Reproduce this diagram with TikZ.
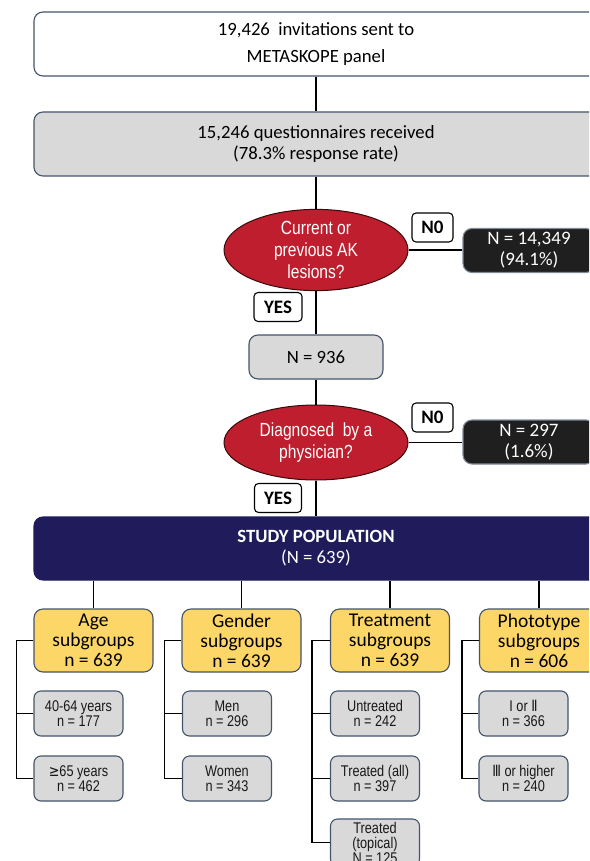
\documentclass[tikz,border=0pt]{standalone}
\usepackage{fontspec}
\setmainfont{Carlito}
\newfontfamily\narrowf[FakeStretch=0.82]{Liberation Sans}
\newfontfamily\symf[FakeStretch=0.82]{DejaVu Sans}
\usetikzlibrary{shapes.geometric}
\definecolor{bord}{HTML}{44546A}
\definecolor{grayfill}{HTML}{D9D9D9}
\definecolor{yel}{HTML}{FCD666}
\definecolor{redfill}{HTML}{BE1E2D}
\definecolor{redbord}{HTML}{3A0A0A}
\definecolor{navy}{HTML}{201C5C}
\definecolor{blk}{HTML}{1F1F1F}
\definecolor{blkbord}{HTML}{7F8A99}
\tikzset{
  base/.style={rounded corners=9pt, draw=bord, line width=1.1pt, align=center, inner sep=0pt,
    font=\fontsize{18.7}{21}\selectfont},
  bigbox/.style={base, minimum width=564pt, minimum height=64pt},
  graybox/.style={base, fill=grayfill},
  decision/.style={ellipse, draw=redbord, line width=1pt, fill=redfill, text=white, align=center,
    inner sep=0pt, minimum width=184pt, minimum height=75pt,
    font=\narrowf\fontsize{19}{22}\selectfont},
  tagbox/.style={rounded corners=4pt, draw=black, line width=1.1pt, fill=white, inner sep=0pt,
    minimum height=29pt, font=\bfseries\fontsize{19}{20}\selectfont},
  blackbox/.style={base, draw=blkbord, fill=blk, text=white, minimum width=132pt, minimum height=44pt,
    font=\fontsize{19}{21}\selectfont},
  subgroup/.style={base, fill=yel, minimum width=119pt, minimum height=63pt,
    font=\fontsize{19.5}{20}\selectfont},
  kid/.style={rounded corners=7pt, draw=bord, line width=1.1pt, fill=grayfill, align=center, inner sep=0pt,
    minimum width=89pt, minimum height=45pt, text=black!90,
    font=\narrowf\fontsize{15.5}{15}\selectfont},
  conn/.style={line width=1.3pt, draw=black}
}
\begin{document}
\begin{tikzpicture}[x=1pt, y=-1pt]
\clip (0,0) rectangle (589,861);
\fill[white] (0,0) rectangle (589,861);

\node[bigbox, fill=white] (top) at (316,44) {19,426~ invitations sent to\\[6pt]METASKOPE panel};
\node[bigbox, fill=grayfill] (recv) at (316,144) {15,246 questionnaires received\\(78.3\% response rate)};
\node[decision] (q1) at (316,250) {Current or\\previous AK\\lesions?};
\node[tagbox, minimum width=41pt] (no1) at (432.5,227.5) {N0};
\node[blackbox] (b1) at (529,250.5) {N = 14,349\\(94.1\%)};
\node[tagbox, minimum width=48pt] (yes1) at (278,307) {YES};
\node[graybox, minimum width=134pt, minimum height=44pt] (n936) at (316,357) {N = 936};
\node[decision] (q2) at (316,442.5) {Diagnosed~ by a\\physician?};
\node[tagbox, minimum width=41pt] (no2) at (432.5,417.5) {N0};
\node[blackbox] (b2) at (529,442) {N = 297\\(1.6\%)};
\node[tagbox, minimum width=47pt] (yes2) at (278,498) {YES};
\node[bigbox, fill=navy, draw=navy, text=white, minimum height=63pt] (study) at (316,548.5)
  {\textbf{STUDY POPULATION}\\(N = 639)};

\node[subgroup] (age) at (93.5,640.5) {Age\\subgroups\\n = 639};
\node[subgroup] (gen) at (241.5,640.5) {Gender\\subgroups\\n = 639};
\node[subgroup] (tre) at (390,640.5) {Treatment\\subgroups\\n = 639};
\node[subgroup] (pho) at (539,640.5) {Phototype\\subgroups\\n = 606};

\node[kid] (age1) at (78.5,713.5) {40-64 years\\n = 177};
\node[kid] (age2) at (78.5,778.5) {{\symf ≥}65 years\\n = 462};
\node[kid] (gen1) at (227,713.5) {Men\\n = 296};
\node[kid] (gen2) at (227,778.5) {Women\\n = 343};
\node[kid] (tre1) at (375,713.5) {Untreated\\n = 242};
\node[kid] (tre2) at (375,778.5) {Treated (all)\\n = 397};
\node[kid, minimum height=47pt] (tre3) at (375,842.5) {Treated\\(topical)\\N = 125};
\node[kid] (pho1) at (523.5,713.5) {I or {\symf Ⅱ}\\n = 366};
\node[kid] (pho2) at (523.5,778.5) {{\symf Ⅲ} or higher\\n = 240};

\draw[conn] (top.south) -- (recv.north);
\draw[conn] (recv.south) -- (q1.north);
\draw[conn] (q1.east) -- (b1.west |- q1.east);
\draw[conn] (q1.south) -- (n936.north);
\draw[conn] (n936.south) -- (q2.north);
\draw[conn] (q2.east) -- (b2.west |- q2.east);
\draw[conn] (q2.south) -- (study.north);
\foreach \s in {age,gen,tre,pho}{
  \draw[conn] (\s.north) -- (\s.north |- study.south);
}
\draw[conn] (age.west) -- ++(-17,0) |- (age2.west);
\draw[conn] (age1.west) -- ++(-17,0);
\draw[conn] (gen.west) -- ++(-17,0) |- (gen2.west);
\draw[conn] (gen1.west) -- ++(-17,0);
\draw[conn] (tre.west) -- ++(-18,0) |- (tre3.west);
\draw[conn] (tre1.west) -- ++(-18,0);
\draw[conn] (tre2.west) -- ++(-18,0);
\draw[conn] (pho.west) -- ++(-17,0) |- (pho2.west);
\draw[conn] (pho1.west) -- ++(-17,0);
\end{tikzpicture}
\end{document}
